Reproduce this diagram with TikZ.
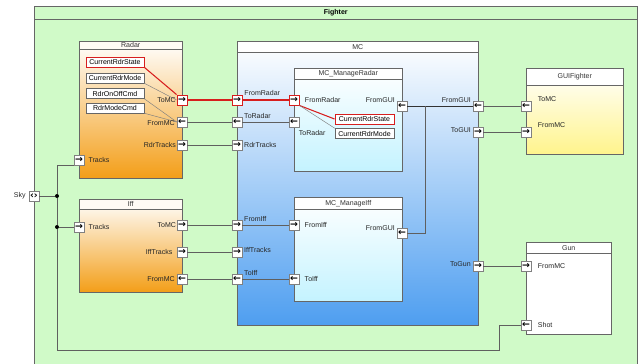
\documentclass[tikz,border=0pt]{standalone}
\usepackage{fontspec}
\setmainfont{Liberation Sans}
\newfontfamily\arrowfont{DejaVu Sans}
\usepackage{tikz}
\usetikzlibrary{positioning}

\definecolor{fighterGreen}{RGB}{208,250,200}
\definecolor{radarOrange}{RGB}{243,158,24}
\definecolor{mcBlue}{RGB}{78,158,240}
\definecolor{manageCyan}{RGB}{196,243,255}
\definecolor{guiYellow}{RGB}{255,244,140}
\definecolor{lineGray}{RGB}{95,95,95}
\definecolor{portRed}{RGB}{215,30,30}

\newcommand{\pxu}{0.03cm}

\begin{document}
\begin{tikzpicture}[x=0.03cm, y=-0.03cm,
  block/.style={draw=gray!80!black, anchor=north west, inner sep=0, line width=0.4pt},
  blocktitle/.style={draw=gray!80!black, anchor=north west, inner sep=0, fill=white, line width=0.4pt, text=black!80},
  field/.style={draw=gray!80!black, fill=white, inner sep=0, minimum width=58*\pxu, minimum height=10*\pxu},
  port/.style={draw=gray, fill=white, inner sep=0, minimum size=3mm, font=\arrowfont\bfseries\fontsize{8}{8}\selectfont},
  redport/.style={port, draw=portRed, line width=0.8pt},
  lbl/.style={inner sep=0.5pt, text=black!85},
  dot/.style={circle, fill=black, inner sep=0, minimum size=4*\pxu},
  line/.style={draw=lineGray, line width=0.6pt},
  busline/.style={draw=black!80, line width=0.8pt},
  thinline/.style={draw=gray, line width=0.4pt},
  redline/.style={draw=portRed, line width=0.9pt},
  node font=\fontsize{6}{7}\selectfont]

\useasboundingbox (0,0) rectangle (643,363);

\node[block, fill=fighterGreen, minimum width=603*\pxu, minimum height=370*\pxu] (blockFighter) at (34,6) {};
\node[blocktitle, fill=fighterGreen, minimum width=603*\pxu, minimum height=13*\pxu, font=\bfseries, text=black] (titleFighter) at (34,6) {Fighter};

\node[block, top color=white, bottom color=radarOrange, minimum width=103*\pxu, minimum height=137*\pxu] (blockRadar) at (79,41) {};
\node[blocktitle, fill=orange!4, minimum width=103*\pxu, minimum height=8*\pxu] (titleRadar) at (79,41) {Radar};
\node[block, top color=white, bottom color=radarOrange, minimum width=103*\pxu, minimum height=93*\pxu] (blockIff) at (79,199) {};
\node[blocktitle, fill=orange!4, minimum width=103*\pxu, minimum height=10*\pxu] (titleIff) at (79,199) {Iff};

\node[block, top color=white, bottom color=mcBlue, minimum width=241*\pxu, minimum height=284*\pxu] (blockMC) at (237,41) {};
\node[blocktitle, minimum width=241*\pxu, minimum height=11*\pxu] (titleMC) at (237,41) {MC};
\node[block, top color=white, bottom color=manageCyan, minimum width=108*\pxu, minimum height=103*\pxu] (blockManageRadar) at (294,68) {};
\node[blocktitle, minimum width=108*\pxu, minimum height=11*\pxu] (titleManageRadar) at (294,68) {MC\_ManageRadar};
\node[block, top color=white, bottom color=manageCyan, minimum width=108*\pxu, minimum height=104*\pxu] (blockManageIff) at (294,197) {};
\node[blocktitle, minimum width=108*\pxu, minimum height=12*\pxu] (titleManageIff) at (294,197) {MC\_ManageIff};

\node[block, top color=white, bottom color=guiYellow, minimum width=97*\pxu, minimum height=86*\pxu] (blockGUIFighter) at (526,68) {};
\node[blocktitle, minimum width=97*\pxu, minimum height=17*\pxu] (titleGUIFighter) at (526,68) {GUIFighter};
\node[block, fill=white, minimum width=85*\pxu, minimum height=92*\pxu] (blockGun) at (526,242) {};
\node[blocktitle, minimum width=85*\pxu, minimum height=11*\pxu] (titleGun) at (526,242) {Gun};

\node[field, draw=portRed, line width=0.8pt] (fRadarCurrentRdrState) at (115,62) {CurrentRdrState};
\node[field] (fRadarCurrentRdrMode) at (115,78) {CurrentRdrMode};
\node[field] (fRadarRdrOnOffCmd)    at (115,93.5) {RdrOnOffCmd};
\node[field] (fRadarRdrModeCmd)     at (115,108) {RdrModeCmd};
\node[field, minimum width=59*\pxu, draw=portRed, line width=0.8pt] (fMRCurrentRdrState) at (364.5,119) {CurrentRdrState};
\node[field, minimum width=59*\pxu] (fMRCurrentRdrMode) at (364.5,133.5) {CurrentRdrMode};

\coordinate (busGUI) at (425,106);
\coordinate (bendShot) at (499,350);
\node[dot] (dotSkyA) at (57,196) {};
\node[dot] (dotSkyB) at (57,227) {};

\node[redport] (pRadarToMC)      at (182,100) {→};
\node[port]    (pRadarFromMC)    at (182,122) {←};
\node[port]    (pRadarRdrTracks) at (182,145) {→};
\node[port]    (pRadarTracks)    at (79,160)  {→};

\node[port] (pIffTracks)    at (79,227)  {→};
\node[port] (pIffToMC)      at (182,225) {→};
\node[port] (pIffIffTracks) at (182,252) {→};
\node[port] (pIffFromMC)    at (182,279) {←};

\node[redport] (pMCFromRadar) at (237,100) {→};
\node[port]    (pMCToRadar)   at (237,122) {←};
\node[port]    (pMCRdrTracks) at (237,145) {→};
\node[port]    (pMCFromIff)   at (237,225) {→};
\node[port]    (pMCIffTracks) at (237,252) {→};
\node[port]    (pMCToIff)     at (237,279) {←};
\node[port]    (pMCFromGUI)   at (478,106) {←};
\node[port]    (pMCToGUI)     at (478,132) {→};
\node[port]    (pMCToGun)     at (478,266) {→};

\node[redport] (pMRFromRadar) at (294,100) {→};
\node[port]    (pMRToRadar)   at (294,122) {←};
\node[port]    (pMRFromGUI)   at (402,106) {←};
\node[port]    (pMIFromIff)   at (294,225) {→};
\node[port]    (pMIToIff)     at (294,279) {←};
\node[port]    (pMIFromGUI)   at (402,233) {←};

\node[port] (pGUIToMC)   at (526,106) {←};
\node[port] (pGUIFromMC) at (526,132) {→};
\node[port] (pGunFromMC) at (526,266) {→};
\node[port] (pGunShot)   at (526,325) {←};
\node[port] (pSky)       at (34,196)  {‹›};

\draw [redline]  (fRadarCurrentRdrState.south east) -- (pRadarToMC.north west);
\draw [thinline] (fRadarCurrentRdrMode.south east)  -- (pRadarToMC.west);
\draw [thinline] (fRadarRdrOnOffCmd.south east)     -- (pRadarFromMC.west);
\draw [thinline] (fRadarRdrModeCmd.south east)      -- (pRadarFromMC.west);
\draw [redline]  (pMRFromRadar.south east) -- (fMRCurrentRdrState.west);
\draw [thinline] (pMRFromRadar.south east) -- (fMRCurrentRdrMode.north west);

\draw [redline] (pRadarToMC)      -- (pMCFromRadar);
\draw [redline] (pMCFromRadar)    -- (pMRFromRadar);
\draw [line]    (pRadarFromMC)    -- (pMCToRadar);
\draw [line]    (pMCToRadar)      -- (pMRToRadar);
\draw [line]    (pRadarRdrTracks) -- (pMCRdrTracks);
\draw [line]    (pIffToMC)        -- (pMCFromIff);
\draw [line]    (pMCFromIff)      -- (pMIFromIff);
\draw [line]    (pIffIffTracks)   -- (pMCIffTracks);
\draw [line]    (pIffFromMC)      -- (pMCToIff);
\draw [line]    (pMCToIff)        -- (pMIToIff);
\draw [line]    (pMCFromGUI)      -- (pGUIToMC);
\draw [line]    (pMCToGUI)        -- (pGUIFromMC);
\draw [line]    (pMCToGun)        -- (pGunFromMC);
\draw [busline] (pMRFromGUI)      -- (pMCFromGUI);
\draw [line]    (pMIFromGUI)      -| (busGUI);

\draw [line] (pSky)    -- (dotSkyA);
\draw [line] (dotSkyA) |- (pRadarTracks.south west);
\draw [line] (dotSkyA) -- (dotSkyB);
\draw [line] (dotSkyB) -- (pIffTracks);
\draw [line] (dotSkyB) |- (bendShot) |- (pGunShot);

\node[lbl, left=0pt of pRadarToMC]                 (tRadarToMC)      {ToMC};
\node[lbl, left=1pt of pRadarFromMC, yshift=-1pt]  (tRadarFromMC)    {FromMC};
\node[lbl, left=0pt of pRadarRdrTracks]            (tRadarRdrTracks) {RdrTracks};
\node[lbl, right=3pt of pRadarTracks]              (tRadarTracks)    {Tracks};
\node[lbl, right=3pt of pIffTracks]                (tIffTracks)      {Tracks};
\node[lbl, left=0pt of pIffToMC]                   (tIffToMC)        {ToMC};
\node[lbl, left=3pt of pIffIffTracks]              (tIffIffTracks)   {IffTracks};
\node[lbl, left=1pt of pIffFromMC]                 (tIffFromMC)      {FromMC};

\node[lbl, above right=-2pt and 1pt of pMCFromRadar] (tMCFromRadar) {FromRadar};
\node[lbl, above right=-2pt and 1pt of pMCToRadar]   (tMCToRadar)   {ToRadar};
\node[lbl, right=1pt of pMCRdrTracks]                (tMCRdrTracks) {RdrTracks};
\node[lbl, above right=-2pt and 1pt of pMCFromIff]   (tMCFromIff)   {FromIff};
\node[lbl, right=1pt of pMCIffTracks, yshift=2pt]    (tMCIffTracks) {IffTracks};
\node[lbl, above right=-2pt and 1pt of pMCToIff]     (tMCToIff)     {ToIff};
\node[lbl, above left=-2pt and 1pt of pMCFromGUI]    (tMCFromGUI)   {FromGUI};
\node[lbl, left=1pt of pMCToGUI, yshift=2pt]         (tMCToGUI)     {ToGUI};
\node[lbl, left=1pt of pMCToGun, yshift=2pt]         (tMCToGun)     {ToGun};

\node[lbl, right=4pt of pMRFromRadar]                (tMRFromRadar) {FromRadar};
\node[lbl, below right=2pt and -1pt of pMRToRadar]   (tMRToRadar)   {ToRadar};
\node[lbl, above left=-2pt and 1pt of pMRFromGUI]    (tMRFromGUI)   {FromGUI};
\node[lbl, right=4pt of pMIFromIff]                  (tMIFromIff)   {FromIff};
\node[lbl, right=4pt of pMIToIff]                    (tMIToIff)     {ToIff};
\node[lbl, above left=-3pt and 1pt of pMIFromGUI]    (tMIFromGUI)   {FromGUI};

\node[lbl, above right=-1pt and 5pt of pGUIToMC]     (tGUIToMC)     {ToMC};
\node[lbl, above right=-1pt and 5pt of pGUIFromMC]   (tGUIFromMC)   {FromMC};
\node[lbl, right=5pt of pGunFromMC]                  (tGunFromMC)   {FromMC};
\node[lbl, right=5pt of pGunShot]                    (tGunShot)     {Shot};
\node[lbl, left=2pt of pSky]                         (tSky)         {Sky};
\end{tikzpicture}
\end{document}
